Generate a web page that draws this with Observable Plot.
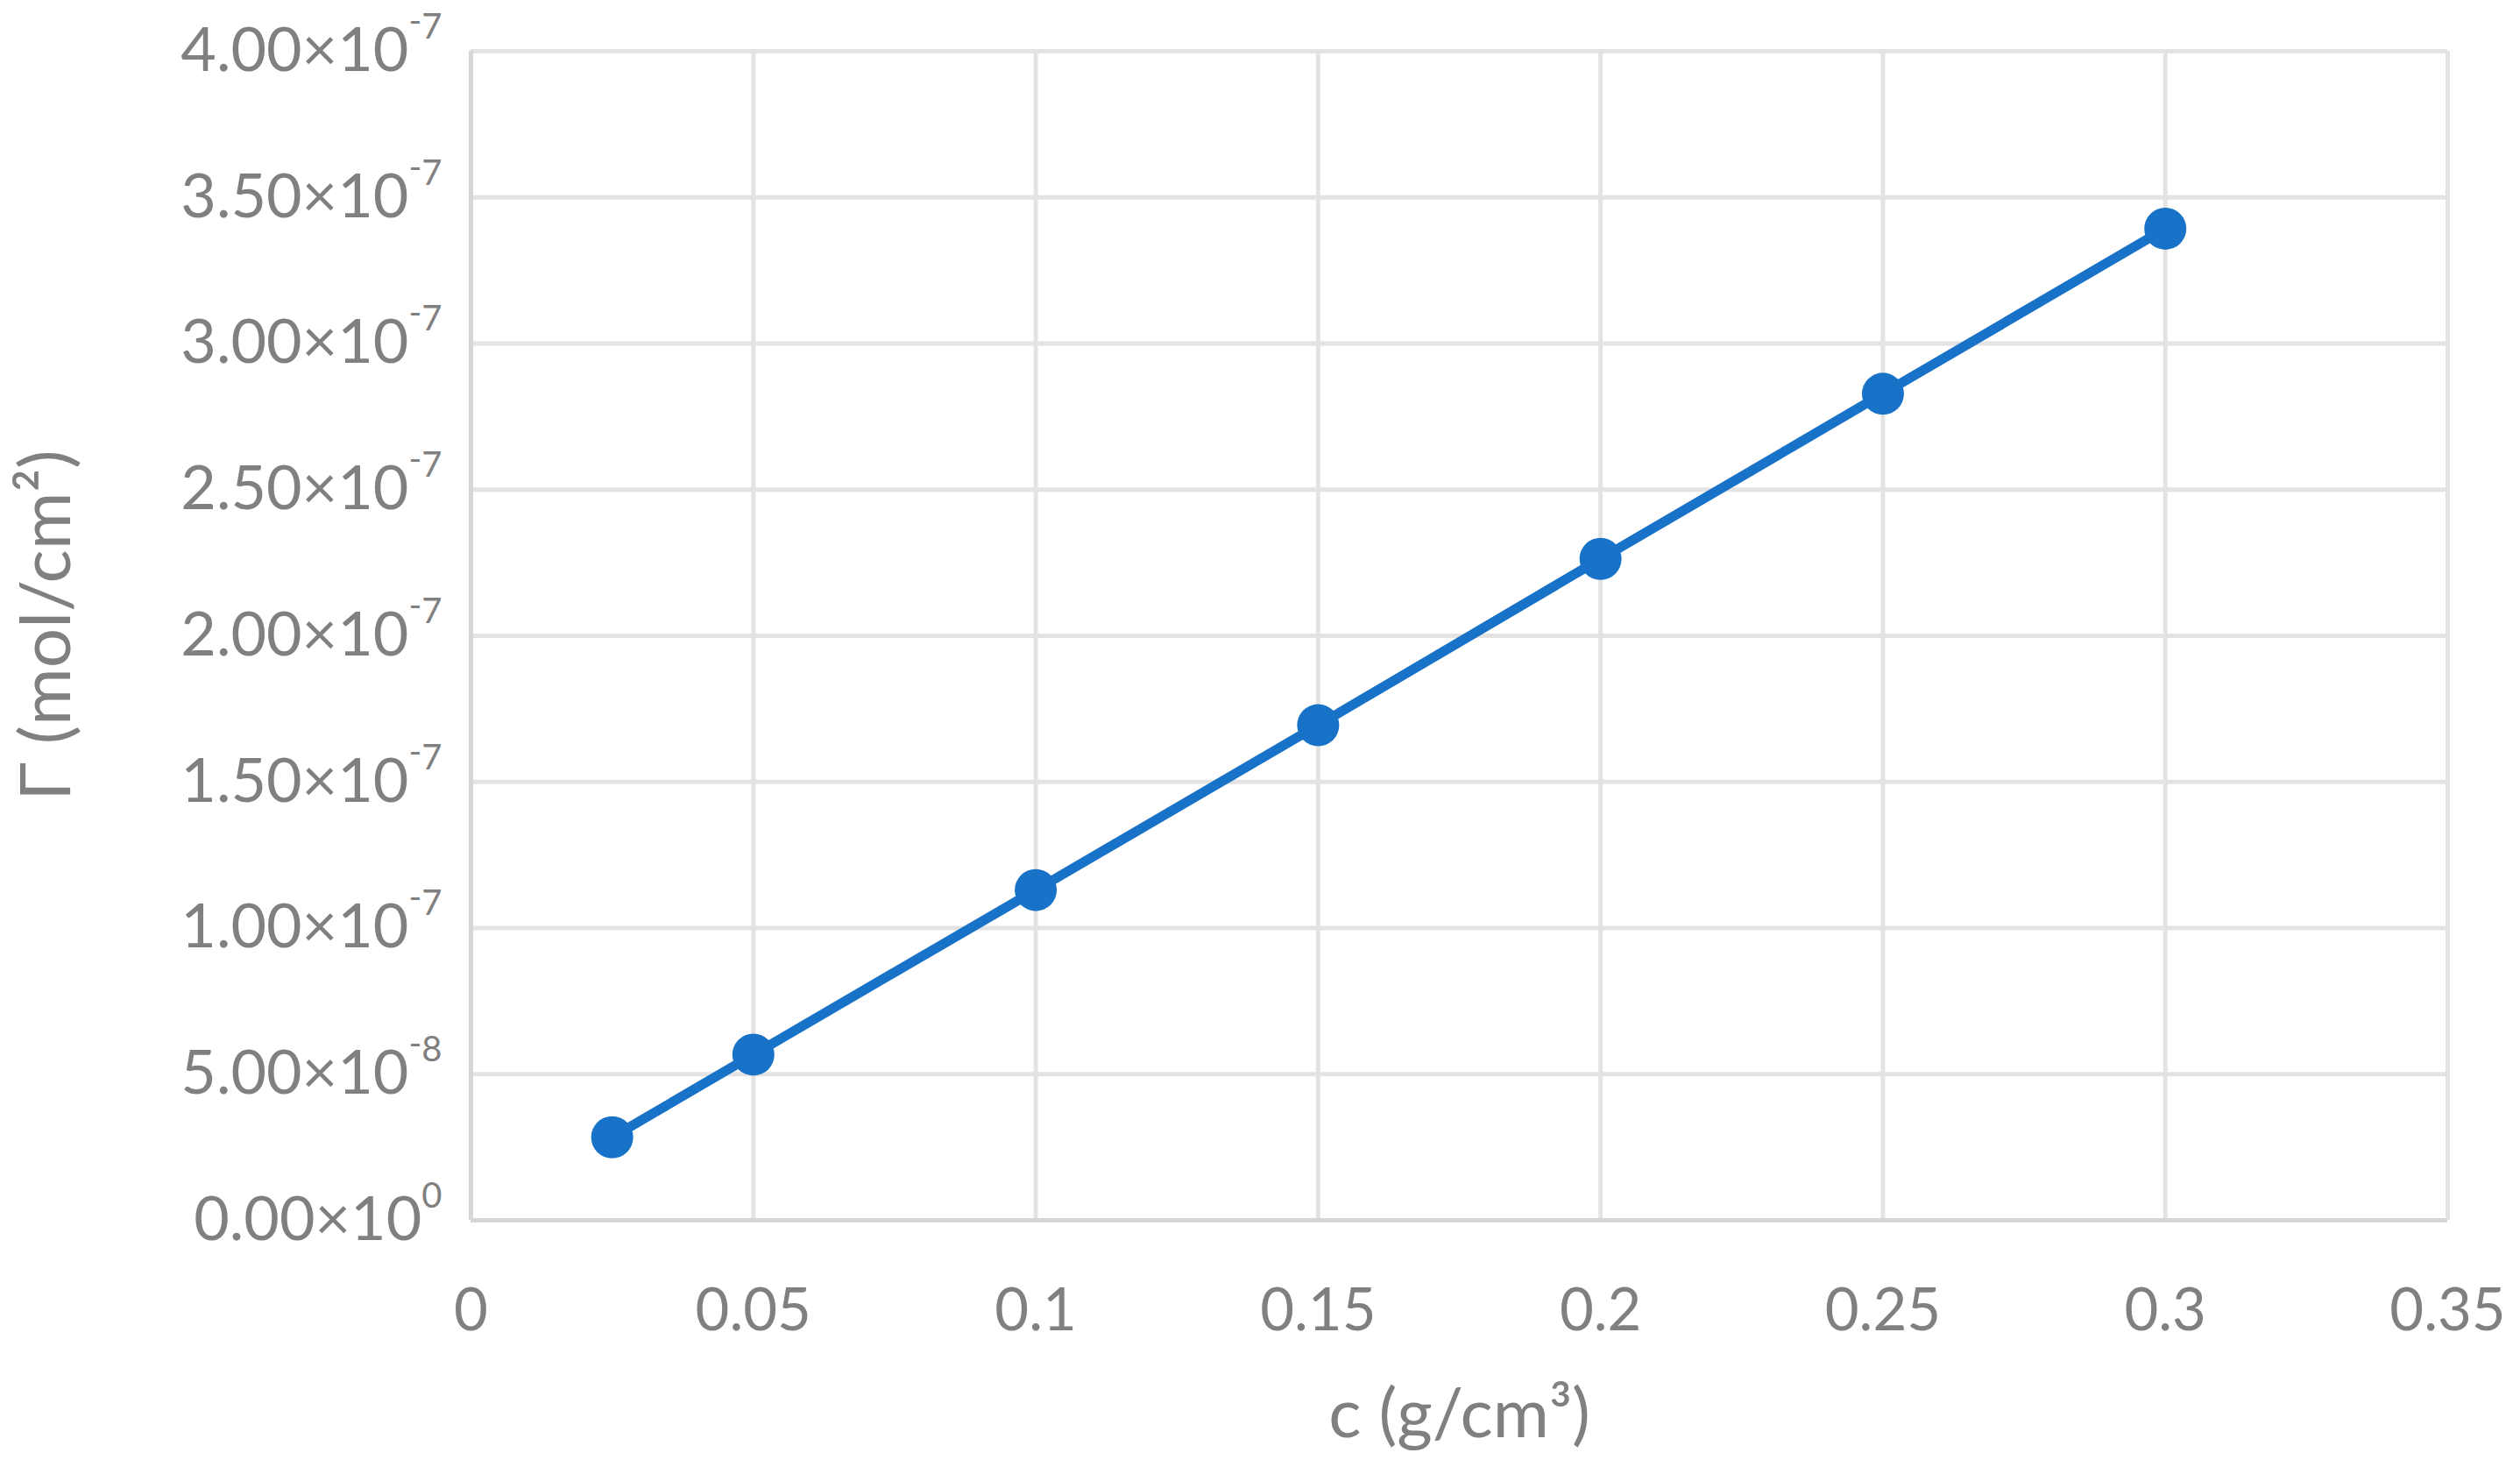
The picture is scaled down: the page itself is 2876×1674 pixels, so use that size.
<!DOCTYPE html>
<html>
<head>
<meta charset="utf-8">
<script src="https://cdn.jsdelivr.net/npm/d3@7"></script>
<script src="https://cdn.jsdelivr.net/npm/@observablehq/plot@0.6"></script>
<style>
  html, body { margin: 0; padding: 0; background: #ffffff; }
  #chart svg { display: block; }
</style>
</head>
<body>
<div id="chart"></div>
<script>
// ---- data ----
const concentration = [0.025, 0.05, 0.1, 0.15, 0.2, 0.25, 0.3];              // c (g/cm³)
const surfaceExcess = [2.84e-8, 5.67e-8, 1.130e-7, 1.694e-7, 2.263e-7, 2.828e-7, 3.393e-7]; // Γ (mol/cm²)

const xTicks = [0, 0.05, 0.1, 0.15, 0.2, 0.25, 0.3, 0.35];
const xTickLabels = ["0", "0.05", "0.1", "0.15", "0.2", "0.25", "0.3", "0.35"];

const yTicks = [0, 0.5e-7, 1e-7, 1.5e-7, 2e-7, 2.5e-7, 3e-7, 3.5e-7, 4e-7];
const yTickMantissas = ["0.00", "5.00", "1.00", "1.50", "2.00", "2.50", "3.00", "3.50", "4.00"];
const yTickExponents = ["0", "-8", "-7", "-7", "-7", "-7", "-7", "-7", "-7"];

const xTitle = "c (g/cm³)";
const yTitle = "Γ (mol/cm²)";

// ---- styling ----
const blue = "#1872c8";
const textGray = "#808080";
const gridGray = "#e3e3e3";
const axisGray = "#d6d6d6";
const font = "Lato, 'Open Sans', sans-serif";

const points = concentration.map((c, i) => ({c, g: surfaceExcess[i]}));

const chart = Plot.plot({
  width: 2876,
  height: 1674,
  marginLeft: 537,
  marginRight: 83,
  marginTop: 58,
  marginBottom: 282,
  style: {fontFamily: font, background: "#ffffff", overflow: "visible"},
  x: {domain: [0, 0.35]},
  y: {domain: [0, 4e-7]},
  marks: [
    Plot.gridX(xTicks.slice(1), {stroke: gridGray, strokeOpacity: 1, strokeWidth: 5}),
    Plot.gridY(yTicks.slice(1), {stroke: gridGray, strokeOpacity: 1, strokeWidth: 5}),
    Plot.ruleX([0], {stroke: axisGray, strokeWidth: 5}),
    Plot.ruleY([0], {stroke: axisGray, strokeWidth: 5}),
    Plot.line(points, {x: "c", y: "g", stroke: blue, strokeWidth: 11, strokeLinejoin: "round"}),
    Plot.dot(points, {x: "c", y: "g", r: 24, fill: blue, stroke: "none"}),
    Plot.axisX(xTicks, {
      tickSize: 0, tickPadding: 78, fontSize: 67, fill: textGray, label: null,
      tickFormat: d => xTickLabels[xTicks.indexOf(d)]
    }),
    Plot.axisY(yTicks, {
      tickSize: 0, tickPadding: 33, fontSize: 70, fill: textGray, label: null,
      tickFormat: d => {
        const i = yTicks.indexOf(d);
        return yTickMantissas[i] + "×10^" + yTickExponents[i];
      }
    }),
    Plot.text([xTitle], {frameAnchor: "bottom", textAnchor: "middle", dy: 247, fontSize: 78, fill: textGray, text: d => d}),
    Plot.text([yTitle], {frameAnchor: "left", textAnchor: "middle", dx: -483, dy: -12, rotate: -90, fontSize: 80, fill: textGray, text: d => d})
  ]
});

// superscript exponents on the y tick labels
const ns = "http://www.w3.org/2000/svg";
chart.querySelectorAll('g[aria-label="y-axis tick label"] text').forEach(t => {
  const s = t.textContent;
  const parts = s.split("^");
  if (parts.length !== 2) return;
  const [m, e] = parts;
  t.textContent = m;
  if (e.startsWith("-")) {
    const minus = document.createElementNS(ns, "tspan");
    minus.setAttribute("font-size", "40");
    minus.setAttribute("dy", "-43");
    minus.textContent = "-";
    t.appendChild(minus);
    const digits = document.createElementNS(ns, "tspan");
    digits.setAttribute("font-size", "40");
    digits.setAttribute("dy", "6");
    digits.textContent = e.slice(1);
    t.appendChild(digits);
  } else {
    const digits = document.createElementNS(ns, "tspan");
    digits.setAttribute("font-size", "40");
    digits.setAttribute("dy", "-37");
    digits.textContent = e;
    t.appendChild(digits);
  }
});

document.getElementById("chart").appendChild(chart);
</script>
</body>
</html>
